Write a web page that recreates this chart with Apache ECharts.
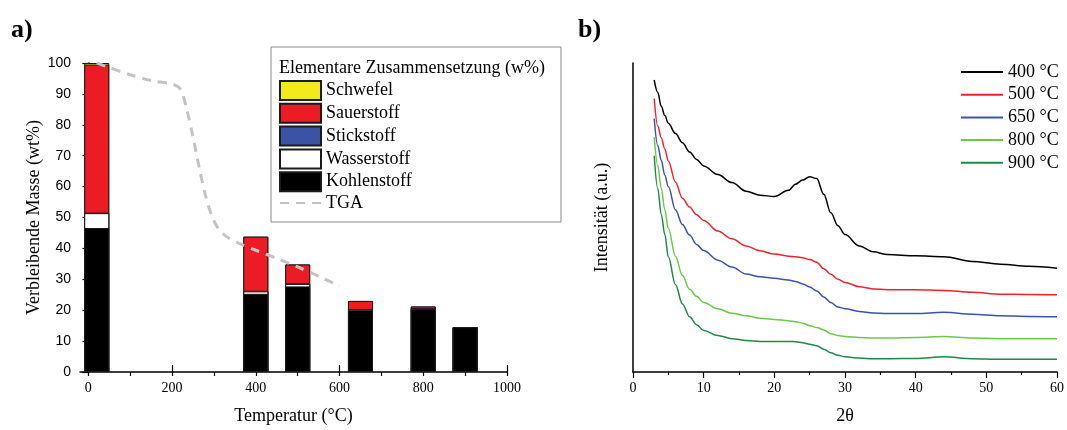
<!DOCTYPE html>
<html>
<head>
<meta charset="utf-8">
<script src="https://cdn.jsdelivr.net/npm/echarts@6/dist/echarts.min.js"></script>
<style>
html,body{margin:0;padding:0;background:#fff;}
#chart{width:1067px;height:430px;}
</style>
</head>
<body>
<div id="chart"></div>
<script>
// ---------- Panel a) data ----------
const temperatures = [20, 400, 500, 650, 800, 900];
const kohlenstoff = [46.6, 25.3, 27.7, 20.0, 20.4, 14.5];
const wasserstoff = [4.8, 0.8, 0.8, 0.3, 0.1, 0];
const stickstoff  = [0.2, 0.2, 0.2, 0.1, 0.1, 0];
const sauerstoff  = [47.9, 17.5, 6.1, 2.6, 0.6, 0];
const schwefel    = [0.5, 0, 0, 0, 0, 0];

const tgaTemp = [20, 50, 100, 150, 200, 220, 235, 250, 265, 280, 295, 310, 330, 360, 400, 450, 500, 550, 600];
const tgaMass = [100, 98.5, 96.2, 94.3, 93.2, 91.5, 85, 76, 66, 57, 50.5, 46.5, 43.8, 41.6, 39.4, 36.8, 34.0, 31.0, 27.8];

const tempTicks = [0, 100, 200, 300, 400, 500, 600, 700, 800, 900, 1000];
const tempLabels = [0, 200, 400, 600, 800, 1000];

// ---------- Panel b) data ----------
const twoTheta = [3, 3.5, 4, 4.5, 5, 6, 7, 8, 9, 10, 12, 14, 16, 18, 20, 22, 23, 24, 25, 26, 27, 28, 29, 30, 32, 34, 36, 40, 44, 48, 52, 56, 60];
const xrd400 = [94.5, 90.5, 86.0, 83.0, 80.5, 77.2, 74.2, 71.2, 68.8, 66.7, 63.9, 61.3, 58.5, 57.2, 56.8, 58.8, 60.8, 62.1, 63.2, 62.6, 57.5, 51.5, 47.3, 44.5, 40.8, 38.9, 38.0, 37.6, 37.3, 35.8, 34.9, 34.2, 33.6];
const xrd500 = [88.5, 79.6, 75.8, 72.2, 68.3, 61.5, 56.2, 53.4, 50.9, 49.0, 45.6, 43.1, 40.8, 39.2, 38.2, 37.5, 37.3, 37.0, 36.4, 35.5, 33.4, 31.6, 30.0, 29.0, 27.6, 26.9, 26.6, 26.6, 26.4, 25.8, 25.2, 25.1, 25.0];
const xrd650 = [82.0, 73.3, 68.5, 63.7, 60.0, 52.5, 47.7, 44.3, 41.3, 39.3, 36.2, 34.0, 31.7, 30.8, 30.3, 29.8, 29.3, 28.5, 27.5, 26.2, 24.3, 22.5, 21.0, 20.5, 19.6, 19.1, 18.9, 18.9, 19.3, 18.7, 18.2, 18.0, 17.9];
const xrd800 = [76.0, 66.9, 59.5, 52.5, 46.5, 37.5, 31.2, 26.8, 24.5, 22.5, 20.5, 19.0, 18.2, 17.4, 17.0, 16.6, 16.3, 15.8, 15.0, 14.4, 13.6, 12.4, 11.8, 11.5, 11.2, 11.0, 11.0, 11.2, 11.5, 11.0, 10.8, 10.8, 10.8];
const xrd900 = [70.0, 59.4, 51.0, 44.5, 37.3, 28.3, 22.0, 17.9, 15.3, 13.4, 11.8, 10.8, 10.2, 9.9, 9.9, 9.9, 9.8, 9.5, 9.0, 8.5, 7.4, 6.2, 5.4, 4.9, 4.5, 4.3, 4.3, 4.4, 4.9, 4.3, 4.1, 4.1, 4.1];
const xrdNames = ['400 °C', '500 °C', '650 °C', '800 °C', '900 °C'];

const SERIF = '"Liberation Serif", "Times New Roman", serif';
const SANS = '"Liberation Sans", Arial, sans-serif';

function pairs(xs, ys) { return xs.map((x, i) => [x, ys[i]]); }

// stacking order bottom -> top
const barDefs = [
  { name: 'Kohlenstoff', data: kohlenstoff, color: '#000000' },
  { name: 'Wasserstoff', data: wasserstoff, color: '#ffffff' },
  { name: 'Stickstoff', data: stickstoff, color: '#3a53a4' },
  { name: 'Sauerstoff', data: sauerstoff, color: '#ed1c24' },
  { name: 'Schwefel', data: schwefel, color: '#f2ea1a' }
];
// cumulative tops of each layer (value axis base => overlay bars, tallest drawn first)
let running = temperatures.map(() => 0);
const cumulative = barDefs.map(d => {
  running = running.map((v, i) => v + d.data[i]);
  return running.slice();
});

const barSeries = barDefs.map((d, k) => ({
  name: d.name,
  type: 'bar',
  xAxisIndex: 0,
  yAxisIndex: 0,
  barWidth: 25,
  barGap: '-100%',
  data: pairs(temperatures, cumulative[k]),
  itemStyle: { color: d.color, borderColor: '#1a1a1a', borderWidth: 1 },
  z: 2 + (barDefs.length - k) * 0.1
}));

const tgaSeries = {
  name: 'TGA',
  type: 'line',
  xAxisIndex: 0,
  yAxisIndex: 0,
  data: pairs(tgaTemp, tgaMass),
  symbol: 'none',
  smooth: 0.3,
  lineStyle: { color: '#c3c3c3', width: 3, type: [9, 7] },
  itemStyle: { color: '#c3c3c3' },
  z: 5
};

const xrdColors = ['#000000', '#f2222a', '#3a53b0', '#6cc84a', '#1f8a44'];
const xrdData = [xrd400, xrd500, xrd650, xrd800, xrd900];
const xrdSeries = xrdData.map((ys, i) => ({
  name: xrdNames[i],
  type: 'line',
  xAxisIndex: 2,
  yAxisIndex: 1,
  data: pairs(twoTheta, ys),
  symbol: 'none',
  smooth: 0.35,
  smoothMonotone: 'x',
  lineStyle: { color: xrdColors[i], width: 1.5 },
  itemStyle: { color: xrdColors[i] }
}));

const chart = echarts.init(document.getElementById('chart'), null, { renderer: 'canvas' });

const axisLineStyle = { color: '#000', width: 1.5 };

chart.setOption({
  animation: false,
  backgroundColor: '#ffffff',
  textStyle: { fontFamily: SERIF },
  grid: [
    { left: 80, top: 63, width: 427, height: 313 },
    { left: 633, top: 63, width: 426, height: 313 }
  ],
  xAxis: [
    {
      type: 'value', gridIndex: 0, min: -20, max: 1000,
      axisLine: { show: true, onZero: false, lineStyle: axisLineStyle },
      axisTick: { show: true, length: 4, customValues: tempTicks, lineStyle: { color: '#000', width: 1.2 } },
      axisLabel: { customValues: tempLabels, fontFamily: SERIF, fontSize: 14, color: '#000', margin: 9, formatter: v => String(v) },
      splitLine: { show: false },
      name: 'Temperatur (°C)', nameLocation: 'middle', nameGap: 35,
      nameTextStyle: { fontFamily: SERIF, fontSize: 18, color: '#000' }
    },
    {
      type: 'value', gridIndex: 0, min: -20, max: 1000,
      axisLine: { show: false },
      axisTick: { show: true, length: 7, customValues: tempLabels, lineStyle: { color: '#000', width: 1.2 } },
      axisLabel: { show: false },
      splitLine: { show: false }
    },
    {
      type: 'value', gridIndex: 1, min: 0, max: 60, interval: 10,
      axisLine: { show: true, onZero: false, lineStyle: axisLineStyle },
      axisTick: { show: true, length: 6, lineStyle: { color: '#000', width: 1.2 } },
      minorTick: { show: true, splitNumber: 2, length: 3, lineStyle: { color: '#000', width: 1.2 } },
      axisLabel: { fontFamily: SERIF, fontSize: 14, color: '#000', margin: 9 },
      splitLine: { show: false },
      name: '2θ', nameLocation: 'middle', nameGap: 35,
      nameTextStyle: { fontFamily: SERIF, fontSize: 18, color: '#000' }
    }
  ],
  yAxis: [
    {
      type: 'value', gridIndex: 0, min: 0, max: 100, interval: 10,
      axisLine: { show: true, lineStyle: axisLineStyle },
      axisTick: { show: true, length: 6, lineStyle: { color: '#000', width: 1.2 } },
      minorTick: { show: true, splitNumber: 2, length: 3, lineStyle: { color: '#000', width: 1.2 } },
      axisLabel: { fontFamily: SANS, fontSize: 14, color: '#000', margin: 9 },
      splitLine: { show: false },
      minorSplitLine: { show: false },
      name: 'Verbleibende Masse (wt%)', nameLocation: 'middle', nameGap: 35, nameRotate: 90,
      nameTextStyle: { fontFamily: SERIF, fontSize: 18, color: '#000' }
    },
    {
      type: 'value', gridIndex: 1, min: 0, max: 100,
      axisLine: { show: true, lineStyle: axisLineStyle },
      axisTick: { show: false },
      axisLabel: { show: false },
      splitLine: { show: false },
      name: 'Intensität (a.u.)', nameLocation: 'middle', nameGap: 22, nameRotate: 90,
      nameTextStyle: { fontFamily: SERIF, fontSize: 18, color: '#000' }
    }
  ],
  legend: [
    {
      orient: 'vertical', left: 274, top: 75,
      itemWidth: 41, itemHeight: 19, itemGap: 1.8,
      textStyle: { fontFamily: SERIF, fontSize: 18, color: '#000' },
      data: [
        { name: 'Schwefel', icon: 'rect' },
        { name: 'Sauerstoff', icon: 'rect' },
        { name: 'Stickstoff', icon: 'rect' },
        { name: 'Wasserstoff', icon: 'rect' },
        { name: 'Kohlenstoff', icon: 'rect' },
        { name: 'TGA', itemStyle: { opacity: 0 } }
      ],
      selectedMode: false
    },
    {
      orient: 'vertical', left: 955, top: 58,
      itemWidth: 42, itemHeight: 18, itemGap: 4.7,
      itemStyle: { opacity: 0 },
      textStyle: { fontFamily: SERIF, fontSize: 18, color: '#000' },
      data: xrdNames,
      selectedMode: false
    }
  ],
  graphic: [
    { type: 'rect', shape: { x: 271, y: 47, width: 290, height: 175 }, style: { fill: 'none', stroke: '#8a8a8a', lineWidth: 1 }, z: 1 },
    { type: 'text', x: 279, y: 68, style: { text: 'Elementare Zusammensetzung (w%)', font: '18px ' + SERIF, fill: '#000', verticalAlign: 'middle' } },
    { type: 'text', x: 11, y: 30, style: { text: 'a)', font: 'bold 26px ' + SERIF, fill: '#000', verticalAlign: 'middle' } },
    { type: 'text', x: 578, y: 30, style: { text: 'b)', font: 'bold 26px ' + SERIF, fill: '#000', verticalAlign: 'middle' } }
  ],
  series: [...barSeries, tgaSeries, ...xrdSeries]
});
</script>
</body>
</html>
